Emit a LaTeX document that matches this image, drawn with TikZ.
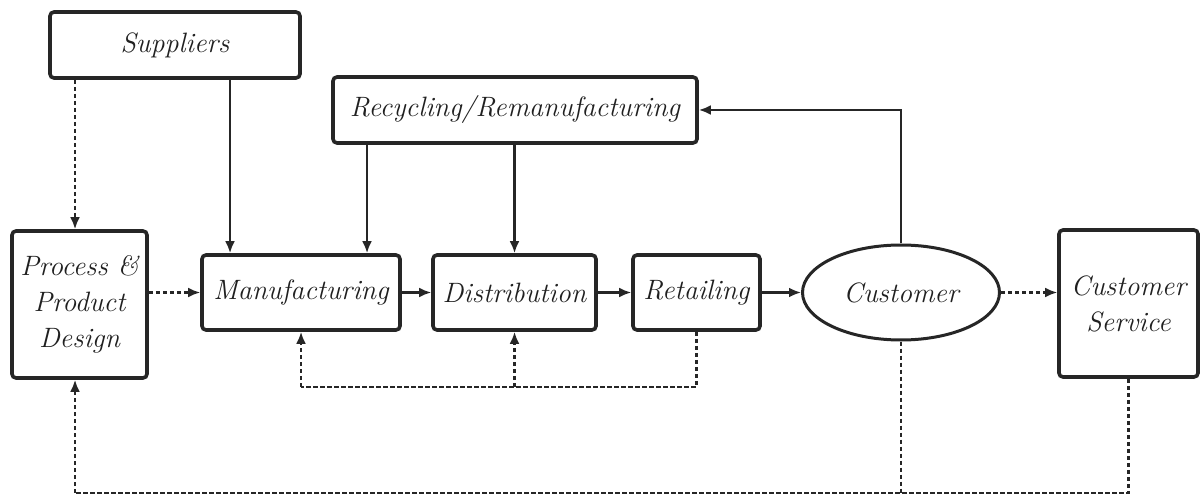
\documentclass[tikz,border=0pt]{standalone}
\usetikzlibrary{arrows.meta,shapes.geometric,calc}
\definecolor{ink}{HTML}{262626}
\definecolor{txt}{HTML}{202020}
\begin{document}
\begin{tikzpicture}[x=0.5pt,y=-0.5pt,
  box/.style={draw=ink,line width=1.8pt,rounded corners=2pt,fill=white,inner sep=0pt,
    align=center,text=txt,font=\fontsize{14}{18}\selectfont\itshape},
  oval/.style={ellipse,draw=ink,line width=1.5pt,fill=white,inner sep=0pt,
    text=txt,font=\fontsize{14}{18}\selectfont\itshape},
  flow/.style={draw=ink,line width=1.3pt,-{Latex[length=6pt,width=5pt]}},
  flowdash/.style={flow,dash pattern=on 2.2pt off 1.3pt},
  link/.style={draw=ink,line width=1.3pt,dash pattern=on 2.2pt off 1.3pt}]
\useasboundingbox (0,0) rectangle (1204,502);

% boxes
\node[box,minimum width=125pt,minimum height=33pt] (sup) at (175,45) {Suppliers};
\node[box,minimum width=182pt,minimum height=33pt] (rec) at (515,110) {Recycling/Remanufacturing};
\node[box,minimum width=67.5pt,minimum height=73.5pt] (ppd) at (79.5,304.5) {Process \&\\Product\\Design};
\node[box,minimum width=99pt,minimum height=37.5pt] (man) at (301,292.5) {Manufacturing};
\node[box,minimum width=81.5pt,minimum height=37.5pt] (dis) at (514.5,292.5) {Distribution};
\node[box,minimum width=63.5pt,minimum height=37.5pt] (ret) at (696.5,292.5) {Retailing};
\node[oval,minimum width=98.5pt,minimum height=47.5pt] (cus) at (901,292.5) {Customer};
\node[box,minimum width=69.5pt,minimum height=73.5pt] (cs) at (1128.5,303.5) {Customer\\Service};

% reference columns and rows
\coordinate (xd) at (75,0);
\coordinate (xs) at (230,0);
\coordinate (xr) at (367,0);
\coordinate (yl) at (0,387);
\coordinate (yb) at (0,493);

% supply side
\draw[flowdash] (sup.south -| xd) -- (ppd.north -| xd);
\draw[flow] (sup.south -| xs) -- (man.north -| xs);
\draw[flow] (rec.south -| xr) -- (man.north -| xr);
\draw[flow] (rec.south -| dis.north) -- (dis.north);
\draw[flow] (cus.north) |- (rec.east);

% main chain
\draw[flowdash] (ppd.east |- man.west) -- (man.west);
\draw[flow] (man.east) -- (dis.west);
\draw[flow] (dis.east) -- (ret.west);
\draw[flow] (ret.east) -- (cus.west);
\draw[flowdash] (cus.east) -- (cus.east -| cs.west);

% feedback from retailing
\draw[link] (ret.south) -- (ret.south |- yl) -- (man.south |- yl);
\draw[flowdash] (man.south |- yl) -- (man.south);
\draw[flowdash] (dis.south |- yl) -- (dis.south);

% feedback to design
\draw[link] (cs.south) -- (cs.south |- yb) -- (xd |- yb);
\draw[link] (cus.south) -- (cus.south |- yb);
\draw[flowdash] (xd |- yb) -- (ppd.south -| xd);
\end{tikzpicture}
\end{document}
